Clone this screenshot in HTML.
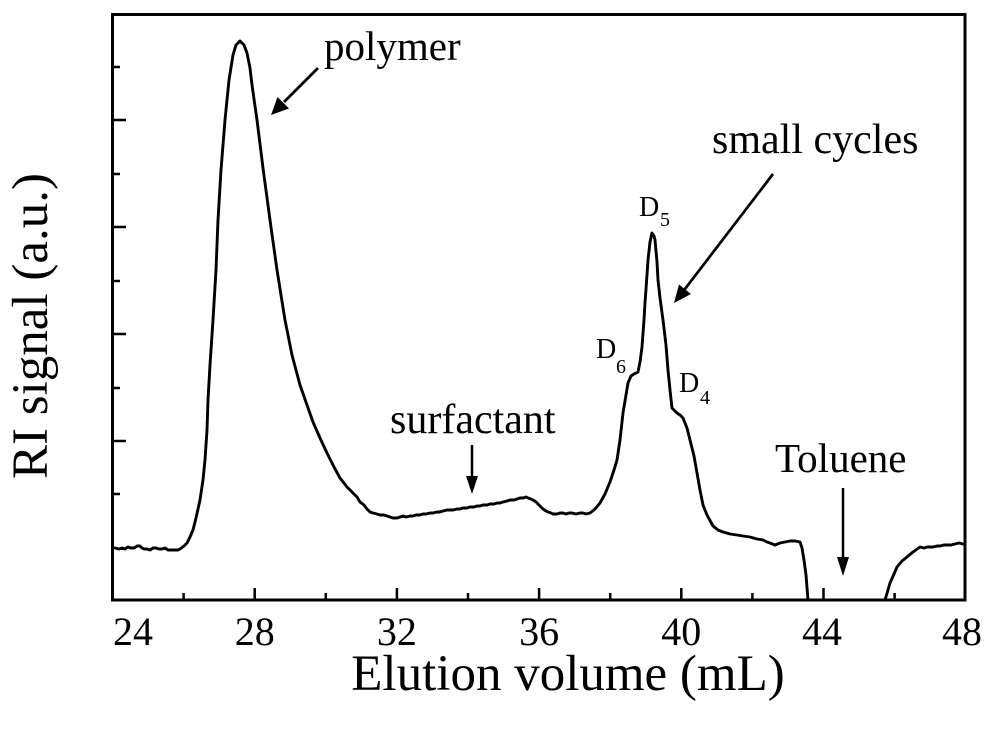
<!DOCTYPE html>
<html>
<head>
<meta charset="utf-8">
<style>
  html,body{margin:0;padding:0;background:#fff;}
  svg{display:block;}
  text{font-family:"Liberation Serif","DejaVu Serif",serif;fill:#000;}
</style>
</head>
<body>
<svg width="1000" height="733" viewBox="0 0 1000 733" xmlns="http://www.w3.org/2000/svg">
  <rect x="0" y="0" width="1000" height="733" fill="#fff"/>

  <!-- data curve -->
  <polyline fill="none" stroke="#000" stroke-width="2.9" stroke-linejoin="round" stroke-linecap="round"
    points="115,548 119,549 122,548 125,549 128,547 131,548 134,548 137,546 140,546 142,548 144,549 147,549 150,550 153,548 156,548 159,549 162,549 165,548 168,550 172,550 175,550 178,550 180,549 184,546 187,543 190,537 193,530 196,518 200,500 203,480 205,460 207,430 208,400 210,365 213,320 216,270 218,220 221,170 225,120 229,80 233,55 236,45 240,41 244,45 247,53 250,68 252,85 257,120 263,168 270,220 277,270 285,320 292,355 300,385 307,405 313,422 320,438 327,453 334,467 340,478 347,487 353,493 357,497 360,502 364,505 367,509 370,512 373,513 377,514 380,515 384,515 387,516 390,517 393,518 397,518 400,517 403,516 406,517 410,516 413,516 416,515 420,515 423,514 426,514 430,513 433,513 437,512 440,512 443,511 447,510 450,510 453,510 457,509 460,509 463,508 467,508 470,507 474,507 477,506 480,506 483,505 487,505 490,504 494,504 497,503 500,503 503,502 507,501 510,500 514,500 517,499 520,498 523,498 526,497 528,498 531,499 533,500 536,502 538,504 541,507 543,509 546,511 548,512 551,513 553,514 557,514 560,513 563,513 566,514 569,513 572,513 576,514 580,513 583,513 586,514 590,513 595,509 600,503 605,494 610,482 614,470 617,460 620,440 623,413 626,395 628,383 631,376 634,374 638,372 640,362 642,347 644,320 645,303 647,275 648,260 650,242 652,233 654,236 655,240 657,262 658,280 660,298 663,320 666,345 668,370 670,390 672,408 675,411 677,413 680,415 683,418 687,428 690,440 694,456 697,473 700,490 703,505 707,515 713,526 718,530 723,532 730,534 737,535 743,536 750,537 757,539 763,540 767,542 770,543 775,545 780,543 785,542 790,541 795,541 800,542 802,548 804,560 806,575 808,600"/>
  <polyline fill="none" stroke="#000" stroke-width="2.9" stroke-linejoin="round" stroke-linecap="round"
    points="885,600 888,590 890,583 894,574 897,567 902,561 907,557 913,552 920,547 924,548 927,547 930,547 933,547 937,546 940,546 944,545 947,545 951,545 955,544 959,543 963,544"/>

  <!-- axes box -->
  <rect x="112.5" y="14.5" width="852.5" height="585.5" fill="none" stroke="#000" stroke-width="3"/>

  <!-- x ticks -->
  <g stroke="#000" stroke-width="2.5">
    <line x1="254.7" y1="600" x2="254.7" y2="588"/>
    <line x1="396.9" y1="600" x2="396.9" y2="588"/>
    <line x1="539.1" y1="600" x2="539.1" y2="588"/>
    <line x1="681.3" y1="600" x2="681.3" y2="588"/>
    <line x1="823.5" y1="600" x2="823.5" y2="588"/>
    <line x1="183.6" y1="600" x2="183.6" y2="593"/>
    <line x1="325.8" y1="600" x2="325.8" y2="593"/>
    <line x1="468.0" y1="600" x2="468.0" y2="593"/>
    <line x1="610.2" y1="600" x2="610.2" y2="593"/>
    <line x1="752.4" y1="600" x2="752.4" y2="593"/>
    <line x1="894.6" y1="600" x2="894.6" y2="593"/>
  </g>
  <!-- y ticks -->
  <g stroke="#000" stroke-width="2.5">
    <line x1="112.5" y1="120" x2="126" y2="120"/>
    <line x1="112.5" y1="227" x2="126" y2="227"/>
    <line x1="112.5" y1="334" x2="126" y2="334"/>
    <line x1="112.5" y1="441" x2="126" y2="441"/>
    <line x1="112.5" y1="67" x2="120" y2="67"/>
    <line x1="112.5" y1="174" x2="120" y2="174"/>
    <line x1="112.5" y1="281" x2="120" y2="281"/>
    <line x1="112.5" y1="388" x2="120" y2="388"/>
    <line x1="112.5" y1="494" x2="120" y2="494"/>
  </g>

  <!-- x tick labels -->
  <g font-size="40" text-anchor="middle">
    <text x="133" y="645">24</text>
    <text x="254.7" y="645">28</text>
    <text x="396.9" y="645">32</text>
    <text x="539.1" y="645">36</text>
    <text x="681.3" y="645">40</text>
    <text x="822" y="645">44</text>
    <text x="962" y="645">48</text>
  </g>

  <!-- axis labels -->
  <text x="568" y="690" font-size="51" text-anchor="middle">Elution volume (mL)</text>
  <text transform="translate(47,326) rotate(-90)" font-size="51" text-anchor="middle">RI signal (a.u.)</text>

  <!-- annotations -->
  <text x="324" y="60" font-size="41">polymer</text>
  <line x1="318" y1="68" x2="284" y2="102" stroke="#000" stroke-width="2.7"/>
  <polygon points="271,115 289,108.5 277.5,97" fill="#000"/>

  <text x="712" y="153" font-size="42">small cycles</text>
  <line x1="773" y1="174" x2="684.7" y2="289.3" stroke="#000" stroke-width="2.7"/>
  <polygon points="674,303 691,294 679,284.5" fill="#000"/>

  <text x="390" y="433" font-size="42">surfactant</text>
  <line x1="472" y1="445" x2="472" y2="478" stroke="#000" stroke-width="2.5"/>
  <polygon points="472,494 466,476 478,476" fill="#000"/>

  <text x="775" y="472" font-size="41">Toluene</text>
  <line x1="843" y1="488" x2="843" y2="560" stroke="#000" stroke-width="2.5"/>
  <polygon points="843,576 837,557 849,557" fill="#000"/>

  <!-- D labels -->
  <text x="639" y="216" font-size="28">D</text>
  <text x="660" y="226" font-size="20">5</text>
  <text x="596" y="358" font-size="28">D</text>
  <text x="616" y="373" font-size="20">6</text>
  <text x="679" y="392" font-size="28">D</text>
  <text x="700" y="404" font-size="20">4</text>
</svg>
</body>
</html>
